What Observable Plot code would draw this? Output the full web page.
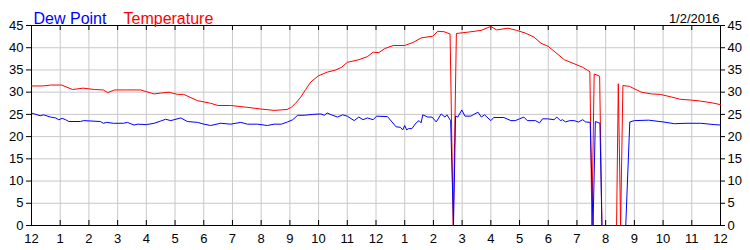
<!DOCTYPE html>
<html><head><meta charset="utf-8">
<script src="https://cdn.jsdelivr.net/npm/d3@7"></script>
<script src="https://cdn.jsdelivr.net/npm/@observablehq/plot@0.6"></script>
<style>body{margin:0;background:#fff;}</style>
</head><body><div id="chart"></div>
<script>
const hourTicks = d3.range(0, 25);
const hourLabels = ["12","1","2","3","4","5","6","7","8","9","10","11","12","1","2","3","4","5","6","7","8","9","10","11","12"];
const yTicks = [0,5,10,15,20,25,30,35,40,45];
const seriesNames = ["Dew Point", "Temperature"];
const dateLabel = "1/2/2016";

const tempTime = [0,0.4,0.66,1.05,1.43,1.8,2.2,2.5,2.65,2.9,3.3,3.8,4.27,4.5,4.79,5.08,5.3,5.78,6.24,6.5,6.94,7.5,8.0,8.45,8.9,9.05,9.2,9.38,9.55,9.73,10.0,10.3,10.6,10.8,11.0,11.4,11.7,11.9,12.1,12.3,12.6,13.0,13.3,13.57,13.98,14.15,14.37,14.58,14.69,14.8,15.2,15.66,16.0,16.2,16.6,16.9,17.2,17.5,17.75,18.0,18.28,18.56,18.9,19.2,19.45,19.52,19.6,19.79,19.87,20.38,20.44,20.52,20.6,20.83,21.24,21.6,21.9,22.3,22.6,23.0,23.3,23.7,24.0];
const tempValue = [31.4,31.4,31.6,31.6,30.6,30.9,30.6,30.5,29.9,30.5,30.5,30.5,29.6,29.8,30.0,29.5,29.5,28.1,27.5,27.0,27.0,26.6,26.2,25.9,26.1,26.6,27.5,28.9,30.6,32.3,33.7,34.5,35.0,35.6,36.7,37.3,38.0,39.0,38.9,39.8,40.5,40.5,41.2,42.2,42.6,43.7,43.6,43.1,0,43.2,43.5,43.9,44.8,44.0,44.4,43.9,43.3,42.4,41.0,40.3,38.8,37.3,36.4,35.6,34.6,0,34.1,33.6,0,0,31.9,0,31.5,31.3,30.0,29.6,29.5,28.9,28.4,28.2,28.0,27.6,27.2];

const dewTime = [0,0.1,0.3,0.42,0.66,0.84,0.95,1.07,1.19,1.3,1.7,1.82,2.4,2.5,2.62,2.85,3.2,3.34,3.57,3.7,4.0,4.27,4.5,4.67,4.85,5.2,5.43,5.78,6.01,6.24,6.59,6.94,7.29,7.52,7.87,8.22,8.45,8.7,8.92,9.1,9.27,9.5,9.8,10.08,10.2,10.3,10.45,10.66,10.84,11.0,11.24,11.4,11.55,11.7,11.9,12.02,12.4,12.7,12.85,12.93,13.0,13.07,13.13,13.25,13.4,13.5,13.57,13.63,13.8,13.95,14.1,14.27,14.4,14.47,14.6,14.7,14.77,14.85,14.99,15.1,15.3,15.55,15.67,15.78,16.0,16.1,16.45,16.7,16.85,17.0,17.15,17.27,17.55,17.7,17.8,17.98,18.2,18.3,18.42,18.5,18.6,18.75,18.9,19.05,19.2,19.3,19.46,19.56,19.64,19.8,19.87,20.7,20.84,21.0,21.5,22.0,22.4,22.8,23.3,23.8,24.0];
const dewValue = [25.3,25.1,24.7,24.9,24.4,24.2,23.8,24.1,23.8,23.4,23.4,23.6,23.4,23.0,23.2,23.0,23.0,23.2,22.6,22.8,22.7,23.0,23.5,23.9,23.6,24.2,23.4,23.2,22.8,22.5,23.0,22.8,23.2,22.8,22.8,22.5,22.8,22.8,23.3,23.8,24.8,24.8,25.0,25.1,24.8,25.3,24.9,24.4,24.9,24.6,23.6,24.4,23.8,24.2,23.8,24.6,24.5,22.2,22.1,21.5,22.5,21.5,21.8,21.8,23.1,23.6,23.1,24.9,24.4,24.4,23.3,25.1,24.4,24.9,23.6,0,24.6,24.4,26.0,24.6,24.6,25.5,24.4,24.9,23.6,24.3,24.3,23.6,23.6,24.0,24.4,23.6,23.6,23.1,24.0,24.0,23.8,24.4,23.6,23.8,23.3,23.6,23.6,23.3,23.8,23.3,23.2,0,23.4,23.0,0,0,23.3,23.6,23.7,23.3,22.9,23.0,23.0,22.7,22.6];

const temp = tempTime.map((t, i) => ({t, v: tempValue[i]}));
const dew = dewTime.map((t, i) => ({t, v: dewValue[i]}));

const chart = Plot.plot({
  width: 750, height: 250,
  marginLeft: 31, marginRight: 30, marginTop: 25, marginBottom: 25,
  style: {fontFamily: "'Liberation Sans', Arial, sans-serif", fontSize: "13px", background: "white", color: "black"},
  x: {domain: [0, 24]},
  y: {domain: [0, 45]},
  marks: [
    Plot.gridX(hourTicks, {stroke: "#c8c8c8", strokeOpacity: 1}),
    Plot.gridY(yTicks, {stroke: "#c8c8c8", strokeOpacity: 1}),
    Plot.frame({stroke: "black"}),
    Plot.tickX(hourTicks, {x: d => d, stroke: "black", insetTop: 195}),
    Plot.tickX(hourTicks, {x: d => d, stroke: "black", insetBottom: 195}),
    Plot.axisY(yTicks, {anchor: "left", tickSize: 5, tickPadding: 3, label: null}),
    Plot.axisY(yTicks, {anchor: "right", tickSize: 4, tickPadding: 3, label: null}),
    Plot.axisX(hourTicks, {anchor: "bottom", tickSize: 0, tickPadding: 8, tickFormat: d => hourLabels[d], label: null}),
    Plot.line(temp, {x: "t", y: "v", stroke: "#ff0000", strokeWidth: 1}),
    Plot.line(dew, {x: "t", y: "v", stroke: "#0000ff", strokeWidth: 1}),
    Plot.text([seriesNames[0]], {frameAnchor: "top-left", dx: 2, dy: -12.8, fill: "#0000ff", fontSize: 16, textAnchor: "start"}),
    Plot.text([seriesNames[1]], {frameAnchor: "top-left", dx: 92, dy: -12.8, fill: "#ff0000", fontSize: 16, textAnchor: "start"}),
    Plot.text([dateLabel], {frameAnchor: "top-right", dx: -1, dy: -12, fill: "black", fontSize: 13, textAnchor: "end"})
  ]
});
document.getElementById("chart").appendChild(chart);
</script>
</body></html>
